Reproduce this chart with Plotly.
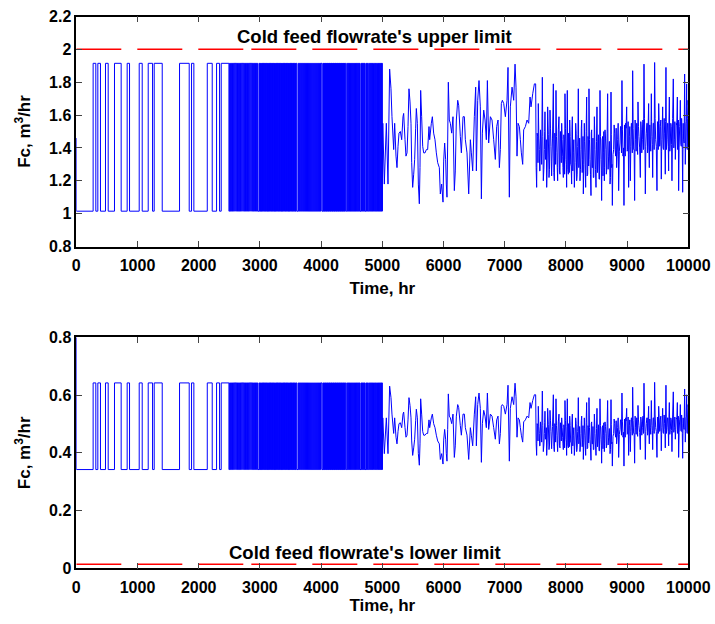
import plotly.graph_objects as go

# ---------------- data ----------------
# Start-up value of the cold feed flowrate (m^3/hr) in each panel
start_top = 1.46
start_bot = 0.80

# On/off levels of the switching phase (m^3/hr)
low_top, high_top = 1.015, 1.915
low_bot, high_bot = 0.342, 0.642

# Switching instants (hr); the flow toggles low -> high -> low ... at each one
switch_slow = [
    275, 319, 352, 395, 477, 521, 624, 733, 831, 870, 1028, 1077, 1175, 1246,
    1273, 1404, 1687, 1845, 1883, 1921, 2140, 2221, 2292, 2341, 2368, 2494,
]
switch_fast = [
    # 2500 - 2970 hr
    2505, 2513, 2521, 2534, 2541, 2552, 2559, 2571, 2578, 2590, 2596, 2609,
    2615, 2628, 2634, 2646, 2653, 2665, 2672, 2684, 2690, 2703, 2709, 2722,
    2728, 2740, 2747, 2759, 2765, 2778, 2784, 2797, 2803, 2815, 2822, 2834,
    2840, 2853, 2859, 2872, 2878, 2890, 2897, 2909, 2915, 2928, 2934, 2946,
    2953, 2962,
    # 2985 - 3605 hr
    2985, 2991, 2998, 3004, 3011, 3016, 3023, 3029, 3036, 3042, 3048, 3055,
    3061, 3068, 3073, 3080, 3086, 3093, 3099, 3105, 3112, 3118, 3125, 3130,
    3137, 3143, 3150, 3156, 3162, 3169, 3175, 3182, 3187, 3194, 3200, 3207,
    3213, 3219, 3226, 3232, 3239, 3244, 3251, 3257, 3264, 3270, 3276, 3283,
    3289, 3296, 3301, 3308, 3314, 3321, 3327, 3333, 3340, 3346, 3353, 3358,
    3365, 3371, 3378, 3384, 3390, 3397, 3403, 3410, 3415, 3422, 3428, 3435,
    3441, 3447, 3454, 3460, 3467, 3472, 3479, 3485, 3492, 3498, 3504, 3511,
    3517, 3524, 3529, 3536, 3542, 3549, 3555, 3561, 3568, 3574, 3581, 3586,
    3593, 3604,
    # 3625 - 4015 hr
    3625, 3633, 3642, 3650, 3659, 3667, 3676, 3684, 3693, 3701, 3710, 3718,
    3727, 3735, 3744, 3752, 3761, 3769, 3778, 3786, 3795, 3803, 3812, 3820,
    3829, 3837, 3846, 3854, 3863, 3871, 3880, 3888, 3897, 3905, 3914, 3922,
    3931, 3939, 3948, 3956, 3965, 3973, 3982, 3990, 3999, 4014,
    # 4030 - 4405 hr
    4030, 4035, 4041, 4046, 4052, 4057, 4063, 4068, 4074, 4079, 4085, 4090,
    4096, 4101, 4107, 4112, 4118, 4123, 4129, 4134, 4140, 4145, 4151, 4156,
    4162, 4167, 4173, 4178, 4184, 4189, 4195, 4200, 4206, 4211, 4217, 4222,
    4228, 4233, 4239, 4244, 4250, 4255, 4261, 4266, 4272, 4277, 4283, 4288,
    4294, 4299, 4305, 4310, 4316, 4321, 4327, 4332, 4338, 4343, 4349, 4354,
    4360, 4365, 4371, 4376, 4382, 4387, 4393, 4402,
    # 4420 - 5000 hr
    4420, 4427, 4435, 4442, 4450, 4457, 4465, 4472, 4480, 4487, 4495, 4502,
    4510, 4517, 4525, 4532, 4540, 4547, 4555, 4562, 4570, 4577, 4585, 4592,
    4600, 4607, 4615, 4622, 4629, 4636, 4652, 4660, 4667, 4675, 4682, 4690,
    4697, 4705, 4711, 4718, 4733, 4741, 4748, 4756, 4763, 4772, 4788, 4796,
    4803, 4811, 4818, 4826, 4833, 4841, 4848, 4856, 4871, 4879, 4886, 4894,
    4901, 4908, 4922, 4930, 4937, 4945, 4952, 4960, 4967, 4975, 4982, 4990,
    4994, 5000,
]

# Continuous control phase: main samples (hr)
cont_t = [
    5008, 5033, 5066, 5093, 5120, 5142, 5158, 5186, 5202, 5224, 5240, 5257,
    5273, 5295, 5317, 5338, 5349, 5371, 5387, 5404, 5420, 5436, 5453, 5469,
    5480, 5496, 5513, 5529, 5545, 5556, 5573, 5589, 5605, 5616, 5627, 5643,
    5660, 5676, 5698, 5720, 5741, 5763, 5774, 5801, 5818, 5839, 5861, 5883,
    5905, 5932, 5948, 5970, 5992, 6003, 6019, 6035, 6046, 6057, 6068, 6079,
    6095, 6112, 6134, 6155, 6177, 6193, 6210, 6232, 6248, 6275, 6292, 6319,
    6341, 6357, 6384, 6412, 6439, 6455, 6477, 6504, 6526, 6537, 6559, 6580,
    6602, 6619, 6635, 6657, 6679, 6700, 6717, 6738, 6766, 6793, 6820, 6847,
    6869, 6891, 6913, 6929, 6945, 6962, 6984, 7011, 7038, 7054, 7076, 7092,
    7120, 7147, 7169, 7185, 7201, 7218, 7240, 7256, 7272, 7294, 7310, 7338,
    7365, 7392, 7414, 7430, 7458, 7485,
    7506, 7522, 7539, 7549, 7566, 7577, 7593, 7615, 7631, 7648, 7658, 7675,
    7686, 7702, 7724, 7740, 7756, 7767, 7795, 7811, 7827, 7838, 7854, 7865,
    7887, 7903, 7920, 7931, 7947, 7958, 7974, 7985, 8002, 8012, 8023, 8040,
    8051, 8062, 8078, 8094, 8105, 8121, 8138, 8160, 8176, 8192, 8203, 8219,
    8230, 8247, 8258, 8274, 8285, 8301, 8312, 8323, 8339, 8356, 8367, 8377,
    8394, 8410, 8421, 8437, 8448, 8465, 8475, 8492, 8508, 8525, 8541, 8557,
    8574, 8584, 8601, 8612, 8628, 8639, 8655, 8666, 8682, 8699, 8721, 8737,
    8748, 8759, 8780, 8797, 8813, 8829, 8846, 8862, 8884, 8900, 8916, 8933,
    8949, 8965, 8976, 8993, 9009, 9025, 9036, 9053, 9069, 9080, 9091, 9107,
    9123, 9140, 9156, 9167, 9178, 9194, 9216, 9232, 9249, 9260, 9276, 9292,
    9298, 9314, 9330, 9341, 9352, 9363, 9379, 9396, 9407, 9418, 9434, 9450,
    9467, 9488, 9505, 9516, 9532, 9543, 9559, 9570, 9581, 9597, 9614, 9624,
    9635, 9652, 9668, 9679, 9690, 9706, 9722, 9733, 9755, 9772, 9788, 9804,
    9821, 9832, 9842, 9859, 9870, 9886, 9897, 9908, 9924, 9940, 9951, 9962,
    9973, 9984, 9995, 10000,
]

# Cold feed flowrate at the main samples, upper panel (m^3/hr)
cont_top = [
    1.55, 1.18, 1.55, 1.18, 1.88, 1.76, 1.59, 1.39, 1.55, 1.35, 1.28, 1.41,
    1.49, 1.50, 1.45, 1.59, 1.61, 1.45, 1.35, 1.37, 1.53, 1.76, 1.68, 1.55,
    1.31, 1.16, 1.24, 1.33, 1.52, 1.64, 1.55, 1.18, 1.06, 1.28, 1.75, 1.59,
    1.41, 1.37, 1.37, 1.39, 1.39, 1.53, 1.45, 1.55, 1.59, 1.49, 1.45, 1.37,
    1.31, 1.28, 1.12, 1.18, 1.07, 1.32, 1.43, 1.33, 1.18, 1.10, 1.43, 1.80,
    1.57, 1.55, 1.49, 1.59, 1.14, 1.26, 1.57, 1.69, 1.66, 1.47, 1.37, 1.59,
    1.59, 1.45, 1.37, 1.12, 1.45, 1.37, 1.26, 1.59, 1.77, 1.26, 1.69, 1.81,
    1.65, 1.09, 1.49, 1.63, 1.57, 1.45, 1.81, 1.43, 1.59, 1.57, 1.45, 1.33,
    1.53, 1.57, 1.28, 1.39, 1.67, 1.69, 1.67, 1.59, 1.69, 1.89, 1.10, 1.65,
    1.77, 1.69, 1.91, 1.77, 1.35, 1.55, 1.53, 1.45, 1.37, 1.30, 1.51, 1.53,
    1.57, 1.55, 1.71, 1.65, 1.73, 1.79,
    1.79, 1.16, 1.47, 1.67, 1.39, 1.26, 1.45, 1.83, 1.20, 1.39, 1.62, 1.35,
    1.16, 1.65, 1.22, 1.63, 1.41, 1.23, 1.79, 1.20, 1.45, 1.75, 1.37, 1.20,
    1.59, 1.24, 1.43, 1.55, 1.35, 1.22, 1.45, 1.73, 1.33, 1.16, 1.75, 1.24,
    1.41, 1.57, 1.30, 1.18, 1.59, 1.37, 1.16, 1.55, 1.20, 1.41, 1.76, 1.35,
    1.20, 1.39, 1.57, 1.33, 1.12, 1.55, 1.37, 1.16, 1.71, 1.24, 1.45, 1.76,
    1.33, 1.11, 1.51, 1.28, 1.22, 1.59, 1.39, 1.16, 1.65, 1.35, 1.21, 1.75,
    1.33, 1.08, 1.47, 1.37, 1.20, 1.51, 1.39, 1.26, 1.73, 1.35, 1.18, 1.74,
    1.28, 1.05, 1.39, 1.49, 1.35, 1.28, 1.45, 1.14, 1.43, 1.53, 1.81, 1.35,
    1.05, 1.41, 1.55, 1.65, 1.39, 1.16, 1.47, 1.20, 1.55, 1.45, 1.87, 1.39,
    1.08, 1.45, 1.55, 1.41, 1.68, 1.47, 1.22, 1.51, 1.45, 1.57, 1.91, 1.39,
    1.12, 1.49, 1.55, 1.41, 1.67, 1.28, 1.45, 1.73, 1.47, 1.22, 1.55, 1.92,
    1.45, 1.14, 1.51, 1.67, 1.41, 1.53, 1.21, 1.45, 1.65, 1.39, 1.49, 1.24,
    1.89, 1.45, 1.55, 1.26, 1.71, 1.43, 1.53, 1.20, 1.82, 1.45, 1.33, 1.55,
    1.71, 1.45, 1.14, 1.53, 1.69, 1.41, 1.49, 1.13, 1.45, 1.85, 1.30, 1.55,
    1.79, 1.39, 1.69, 1.66,
]

# Cold feed flowrate at the main samples, lower panel (m^3/hr)
cont_bot = [
    0.521, 0.397, 0.521, 0.397, 0.631, 0.591, 0.534, 0.467, 0.521, 0.454, 0.431, 0.474,
    0.501, 0.504, 0.487, 0.534, 0.541, 0.487, 0.454, 0.461, 0.514, 0.591, 0.564, 0.521,
    0.441, 0.391, 0.417, 0.447, 0.511, 0.551, 0.521, 0.397, 0.357, 0.431, 0.587, 0.534,
    0.474, 0.461, 0.461, 0.467, 0.467, 0.514, 0.487, 0.521, 0.534, 0.501, 0.487, 0.461,
    0.441, 0.431, 0.377, 0.397, 0.361, 0.444, 0.481, 0.447, 0.397, 0.371, 0.481, 0.604,
    0.527, 0.521, 0.501, 0.534, 0.384, 0.424, 0.527, 0.567, 0.557, 0.494, 0.461, 0.534,
    0.534, 0.487, 0.461, 0.377, 0.487, 0.461, 0.424, 0.534, 0.594, 0.424, 0.567, 0.607,
    0.554, 0.367, 0.501, 0.547, 0.527, 0.487, 0.607, 0.481, 0.534, 0.527, 0.487, 0.447,
    0.514, 0.527, 0.431, 0.467, 0.561, 0.567, 0.561, 0.534, 0.567, 0.634, 0.371, 0.554,
    0.594, 0.567, 0.641, 0.594, 0.454, 0.521, 0.514, 0.487, 0.461, 0.437, 0.507, 0.514,
    0.527, 0.521, 0.574, 0.554, 0.581, 0.601,
    0.601, 0.391, 0.494, 0.561, 0.467, 0.424, 0.487, 0.614, 0.404, 0.467, 0.544, 0.454,
    0.391, 0.554, 0.411, 0.547, 0.474, 0.414, 0.601, 0.404, 0.487, 0.587, 0.461, 0.404,
    0.534, 0.417, 0.481, 0.521, 0.454, 0.411, 0.487, 0.581, 0.447, 0.391, 0.587, 0.417,
    0.474, 0.527, 0.437, 0.397, 0.534, 0.461, 0.391, 0.521, 0.404, 0.474, 0.591, 0.454,
    0.404, 0.467, 0.527, 0.447, 0.377, 0.521, 0.461, 0.391, 0.574, 0.417, 0.487, 0.591,
    0.447, 0.374, 0.507, 0.431, 0.411, 0.534, 0.467, 0.391, 0.554, 0.454, 0.407, 0.587,
    0.447, 0.364, 0.494, 0.461, 0.404, 0.507, 0.467, 0.424, 0.581, 0.454, 0.397, 0.584,
    0.431, 0.354, 0.467, 0.501, 0.454, 0.431, 0.487, 0.384, 0.481, 0.514, 0.607, 0.454,
    0.354, 0.474, 0.521, 0.554, 0.467, 0.391, 0.494, 0.404, 0.521, 0.487, 0.627, 0.467,
    0.364, 0.487, 0.521, 0.474, 0.564, 0.494, 0.411, 0.507, 0.487, 0.527, 0.641, 0.467,
    0.377, 0.501, 0.521, 0.474, 0.561, 0.431, 0.487, 0.581, 0.494, 0.411, 0.521, 0.644,
    0.487, 0.384, 0.507, 0.561, 0.474, 0.514, 0.407, 0.487, 0.554, 0.467, 0.501, 0.417,
    0.634, 0.487, 0.521, 0.424, 0.574, 0.481, 0.514, 0.404, 0.611, 0.487, 0.447, 0.521,
    0.574, 0.487, 0.384, 0.514, 0.567, 0.474, 0.501, 0.381, 0.487, 0.621, 0.437, 0.521,
    0.601, 0.467, 0.567, 0.557,
]

# Fast in-between samples of the late control phase (hr)
fast_t = [
    7514, 7530, 7544, 7558, 7571, 7585, 7604, 7623, 7640, 7653, 7666, 7680,
    7694, 7713, 7732, 7748, 7761, 7781, 7803, 7819, 7832, 7846, 7859, 7876,
    7895, 7911, 7925, 7939, 7952, 7966, 7979, 7993, 8007, 8017, 8031, 8045,
    8056, 8070, 8086, 8099, 8113, 8129, 8149, 8168, 8184, 8197, 8211, 8224,
    8238, 8252, 8266, 8279, 8293, 8306, 8317, 8331, 8347, 8361, 8372, 8385,
    8402, 8415, 8429, 8442, 8456, 8470, 8483, 8500, 8516, 8533, 8549, 8565,
    8579, 8592, 8606, 8620, 8633, 8647, 8660, 8674, 8690, 8710, 8729, 8742,
    8753,
    8770, 8788, 8805, 8821, 8837, 8854, 8873, 8892, 8908, 8924, 8941, 8957,
    8970, 8984, 9001, 9017, 9030, 9044, 9061, 9074, 9085, 9099, 9115, 9131,
    9148, 9161, 9172, 9186, 9205, 9224, 9240, 9254, 9268, 9284, 9306, 9322,
    9335, 9346, 9357, 9371, 9387, 9401, 9412, 9426, 9442, 9458, 9477, 9496,
    9510, 9524, 9537, 9551, 9564, 9575, 9589, 9605, 9619, 9629, 9643, 9660,
    9673, 9684, 9698, 9714, 9727, 9744, 9763, 9780, 9796, 9812, 9826, 9837,
    9850, 9864, 9878, 9891, 9902, 9916, 9932, 9945, 9956, 9967, 9978, 9989,
]

fast_top = [
    1.28, 1.49, 1.31, 1.46, 1.26, 1.51, 1.30, 1.47, 1.27, 1.50, 1.33, 1.45,
    1.29, 1.48, 1.27, 1.52, 1.32, 1.46, 1.25, 1.49, 1.30, 1.47, 1.28, 1.51,
    1.26, 1.50, 1.31, 1.45, 1.28, 1.48, 1.24, 1.52, 1.30, 1.46, 1.27, 1.49,
    1.25, 1.47, 1.29, 1.51, 1.26, 1.45, 1.31, 1.49, 1.24, 1.48, 1.28, 1.46,
    1.27, 1.52, 1.25, 1.47, 1.30, 1.44, 1.26, 1.50, 1.23, 1.47, 1.29, 1.45,
    1.24, 1.49, 1.28, 1.46, 1.22, 1.51, 1.27, 1.44, 1.25, 1.48, 1.21, 1.47,
    1.26, 1.45, 1.23, 1.50, 1.28, 1.46, 1.24, 1.49, 1.27, 1.44, 1.22, 1.48,
    1.30,
    1.36, 1.54, 1.39, 1.52, 1.35, 1.55, 1.38, 1.53, 1.37, 1.51, 1.40, 1.54,
    1.35, 1.52, 1.38, 1.56, 1.36, 1.53, 1.41, 1.55, 1.37, 1.52, 1.39, 1.57,
    1.38, 1.55, 1.36, 1.53, 1.40, 1.56, 1.37, 1.54, 1.39, 1.58, 1.41, 1.55,
    1.37, 1.57, 1.40, 1.54, 1.38, 1.56, 1.42, 1.55, 1.39, 1.58, 1.41, 1.56,
    1.39, 1.55, 1.42, 1.57, 1.38, 1.54, 1.40, 1.58, 1.43, 1.56, 1.39, 1.55,
    1.41, 1.57, 1.38, 1.55, 1.42, 1.58, 1.40, 1.56, 1.43, 1.54, 1.39, 1.57,
    1.40, 1.56, 1.42, 1.58, 1.39, 1.55, 1.43, 1.57, 1.41, 1.56, 1.40, 1.58,
]

fast_bot = [
    0.431, 0.501, 0.441, 0.491, 0.424, 0.507, 0.437, 0.494, 0.427, 0.504, 0.447, 0.487,
    0.434, 0.497, 0.427, 0.511, 0.444, 0.491, 0.421, 0.501, 0.437, 0.494, 0.431, 0.507,
    0.424, 0.504, 0.441, 0.487, 0.431, 0.497, 0.417, 0.511, 0.437, 0.491, 0.427, 0.501,
    0.421, 0.494, 0.434, 0.507, 0.424, 0.487, 0.441, 0.501, 0.417, 0.497, 0.431, 0.491,
    0.427, 0.511, 0.421, 0.494, 0.437, 0.484, 0.424, 0.504, 0.414, 0.494, 0.434, 0.487,
    0.417, 0.501, 0.431, 0.491, 0.411, 0.507, 0.427, 0.484, 0.421, 0.497, 0.407, 0.494,
    0.424, 0.487, 0.414, 0.504, 0.431, 0.491, 0.417, 0.501, 0.427, 0.484, 0.411, 0.497,
    0.437,
    0.457, 0.517, 0.467, 0.511, 0.454, 0.521, 0.464, 0.514, 0.461, 0.507, 0.471, 0.517,
    0.454, 0.511, 0.464, 0.524, 0.457, 0.514, 0.474, 0.521, 0.461, 0.511, 0.467, 0.527,
    0.464, 0.521, 0.457, 0.514, 0.471, 0.524, 0.461, 0.517, 0.467, 0.531, 0.474, 0.521,
    0.461, 0.527, 0.471, 0.517, 0.464, 0.524, 0.477, 0.521, 0.467, 0.531, 0.474, 0.524,
    0.467, 0.521, 0.477, 0.527, 0.464, 0.517, 0.471, 0.531, 0.481, 0.524, 0.467, 0.521,
    0.474, 0.527, 0.464, 0.521, 0.477, 0.531, 0.471, 0.524, 0.481, 0.517, 0.467, 0.527,
    0.471, 0.524, 0.477, 0.531, 0.467, 0.521, 0.481, 0.527, 0.474, 0.524, 0.471, 0.531,
]

# Operating limits of the cold feed flowrate (m^3/hr)
upper_limit = 2.0
lower_limit = 0.014
limit_t = [0, 2860, 10000]   # break points of the limit lines (hr)

# Axis settings
x_ticks = [0, 1000, 2000, 3000, 4000, 5000, 6000, 7000, 8000, 9000, 10000]
y_ticks_top = [0.8, 1.0, 1.2, 1.4, 1.6, 1.8, 2.0, 2.2]
y_ticks_bot = [0, 0.2, 0.4, 0.6, 0.8]


# ---------------- build the traces ----------------
def build_series(start, low, high, values, fast_values):
    xs, ys = [0, 0], [start, low]
    level = low
    for s in switch_slow + switch_fast:
        new = high if level == low else low
        xs += [s, s]
        ys += [level, new]
        level = new
    samples = sorted(zip(cont_t + fast_t, values + fast_values))
    xs += [p[0] for p in samples]
    ys += [p[1] for p in samples]
    return xs, ys


blue = "#0000ff"
red = "#ff0000"
FONT = "Liberation Sans, Arial, Helvetica, sans-serif"

fig = go.Figure()

for xaxis, yaxis, start, low, high, vals, fvals, lim in [
    ("x", "y", start_top, low_top, high_top, cont_top, fast_top, upper_limit),
    ("x2", "y2", start_bot, low_bot, high_bot, cont_bot, fast_bot, lower_limit),
]:
    xs, ys = build_series(start, low, high, vals, fvals)
    fig.add_trace(go.Scatter(x=xs, y=ys, mode="lines", xaxis=xaxis, yaxis=yaxis,
                             line=dict(color=blue, width=1, simplify=False),
                             showlegend=False, hoverinfo="skip"))
    # limit line, drawn as two dashed pieces
    for i in range(len(limit_t) - 1):
        fig.add_trace(go.Scatter(x=[limit_t[i], limit_t[i + 1]], y=[lim, lim],
                                 mode="lines", xaxis=xaxis, yaxis=yaxis,
                                 line=dict(color=red, width=1.5, dash="45px,16px"),
                                 showlegend=False, hoverinfo="skip"))

W, H = 715, 624
x_dom = [76.3 / W, 688.3 / W]
y_dom_top = [1 - 246.5 / H, 1 - 16.5 / H]
y_dom_bot = [1 - 568.3 / H, 1 - 337.3 / H]

tickfont = dict(family=FONT, size=16, color="black", weight="bold")
titlefont = dict(family=FONT, size=17, color="black", weight="bold")
notefont = dict(family=FONT, size=18.5, color="black", weight="bold")

xcommon = dict(range=[0, 10000], tickvals=x_ticks, tickformat="d",
               ticks="inside", ticklen=6, tickwidth=1, tickcolor="#444",
               showline=True, linecolor="black", linewidth=1.5, mirror="ticks",
               showgrid=False, zeroline=False, tickfont=tickfont,
               ticklabelstandoff=4, automargin=False)
ycommon = dict(ticks="inside", ticklen=6, tickwidth=1,
               tickcolor="#444", showline=True, linecolor="black",
               linewidth=1.5, mirror="ticks", showgrid=False, zeroline=False,
               tickfont=tickfont, automargin=False)

fig.update_layout(
    width=W, height=H,
    margin=dict(l=0, r=0, t=0, b=0),
    paper_bgcolor="white", plot_bgcolor="white",
    xaxis=dict(domain=x_dom, anchor="y",
               title=dict(text="Time, hr", font=titlefont, standoff=9),
               **xcommon),
    yaxis=dict(domain=y_dom_top, anchor="x", range=[0.8, 2.2],
               tickvals=y_ticks_top,
               title=dict(text="Fc, m<sup>3</sup>/hr", font=titlefont, standoff=14),
               **ycommon),
    xaxis2=dict(domain=x_dom, anchor="y2",
                title=dict(text="Time, hr", font=titlefont, standoff=3),
                **xcommon),
    yaxis2=dict(domain=y_dom_bot, anchor="x2", range=[0, 0.8],
                tickvals=y_ticks_bot,
                title=dict(text="Fc, m<sup>3</sup>/hr", font=titlefont, standoff=14),
                **ycommon),
    annotations=[
        dict(x=4876, y=2.081, xref="x", yref="y", showarrow=False,
             text="Cold feed flowrate's upper limit", font=notefont,
             xanchor="center", yanchor="middle"),
        dict(x=4724, y=0.054, xref="x2", yref="y2", showarrow=False,
             text="Cold feed flowrate's lower limit", font=notefont,
             xanchor="center", yanchor="middle"),
    ],
)

fig.write_html("out.html")
